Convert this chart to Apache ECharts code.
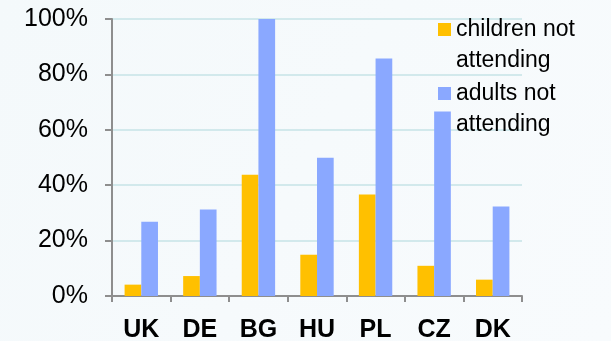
<!DOCTYPE html>
<html>
<head>
<meta charset="utf-8">
<script src="https://cdn.jsdelivr.net/npm/echarts@6/dist/echarts.min.js"></script>
<style>
  html, body { margin: 0; padding: 0; background: #f6fafc; }
  #chart { width: 611px; height: 341px; }
</style>
</head>
<body>
<div id="chart"></div>
<script>
// Share of people not attending, by country (%)
const countries = ['UK', 'DE', 'BG', 'HU', 'PL', 'CZ', 'DK'];
const childrenNotAttending = [4.1, 7.2, 43.8, 14.9, 36.6, 10.9, 5.9];
const adultsNotAttending = [26.8, 31.2, 100, 49.9, 85.7, 66.6, 32.3];
const seriesNames = ['children not\nattending', 'adults not\nattending'];
const yTicks = [0, 20, 40, 60, 80, 100];

const chart = echarts.init(document.getElementById('chart'), null, { renderer: 'canvas' });

// Legend labels wrap onto two lines; a blank leading line keeps the
// vertically centred marker level with the first line of text.
function legendFor(name, top) {
  return {
    orient: 'vertical',
    left: 438,
    top: top,
    padding: 0,
    itemWidth: 13,
    itemHeight: 13,
    icon: 'rect',
    formatter: n => '\n' + n,
    textStyle: {
      fontFamily: 'Liberation Sans, Arial, sans-serif',
      fontSize: 23,
      color: '#000',
      lineHeight: 31
    },
    data: [name]
  };
}

chart.setOption({
  animation: false,
  backgroundColor: {
    type: 'linear', x: 0, y: 0, x2: 1, y2: 1,
    colorStops: [
      { offset: 0, color: '#f4f9fb' },
      { offset: 1, color: '#f8fbfd' }
    ]
  },
  grid: {
    left: 112, top: 19, width: 410, height: 277,
    containLabel: false,
    outerBoundsMode: 'none'
  },
  legend: [legendFor(seriesNames[0], -17), legendFor(seriesNames[1], 47)],
  xAxis: {
    type: 'category',
    data: countries,
    axisLine: { lineStyle: { color: '#8e8e8e', width: 2 } },
    axisTick: { show: true, length: 6, lineStyle: { color: '#8e8e8e', width: 2 } },
    axisLabel: {
      margin: 22,
      fontFamily: 'Liberation Sans, Arial, sans-serif',
      fontWeight: 'bold',
      fontSize: 25,
      color: '#000'
    }
  },
  yAxis: {
    type: 'value',
    min: 0,
    max: 100,
    interval: 20,
    axisLine: { show: true, lineStyle: { color: '#8e8e8e', width: 2 } },
    axisTick: { show: true, length: 7, lineStyle: { color: '#8e8e8e', width: 2 } },
    splitLine: { lineStyle: { color: '#d2e9ec', width: 2 } },
    axisLabel: {
      margin: 24,
      fontFamily: 'Liberation Sans, Arial, sans-serif',
      fontSize: 25,
      color: '#000',
      formatter: v => (yTicks.includes(v) ? v + '%' : '')
    }
  },
  series: [
    {
      name: seriesNames[0],
      type: 'bar',
      data: childrenNotAttending,
      barGap: '0%',
      barCategoryGap: '43%',
      itemStyle: { color: '#ffc000' }
    },
    {
      name: seriesNames[1],
      type: 'bar',
      data: adultsNotAttending,
      barGap: '0%',
      barCategoryGap: '43%',
      itemStyle: { color: '#8aa8ff' }
    }
  ]
});
</script>
</body>
</html>
